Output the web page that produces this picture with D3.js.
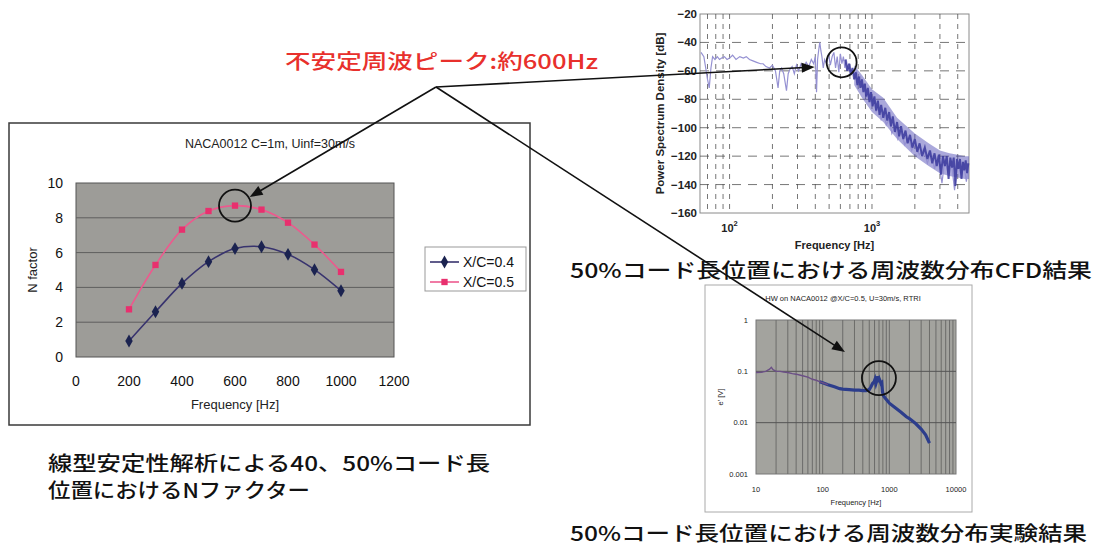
<!DOCTYPE html>
<html>
<head>
<meta charset="utf-8">
<script src="https://cdn.jsdelivr.net/npm/d3@7"></script>
<style>
  body { margin: 0; background: #fff; }
  svg { display: block; }
</style>
</head>
<body>
<svg id="c" width="1098" height="549"></svg>
<script>
// ---------------- data ----------------
// Linear stability N factor at two chord positions
const nFreq = [200, 300, 400, 500, 600, 700, 800, 900, 1000];
const nX04  = [0.92, 2.6, 4.23, 5.48, 6.23, 6.34, 5.9, 5.02, 3.81];
const nX05  = [2.74, 5.29, 7.32, 8.39, 8.7, 8.47, 7.72, 6.46, 4.89];
const nSeries = ["X/C=0.4", "X/C=0.5"];
const nXTicks = [0, 200, 400, 600, 800, 1000, 1200];
const nYTicks = [0, 2, 4, 6, 8, 10];

// CFD power spectrum density, light trace (Hz, dB)
const psdFreqA = [63,66,68,70,72,74,76,79,82,85,88,92,96,100,105,111,118,125,131,138,146,155,165,172,180,191,200,210,219,225,232,240,251,258,265,275,285,295,305,318,330,345,360,375,390,400,408,415,423,430,438,445,455,465,480,495,510,525,540,555,570,585,600,615,630,645,660,680,700,720,740,760,780,800,830,860,890,920,950,990,1030,1070,1110,1160,1210,1260,1320,1380,1450,1520,1600,1700,1800,1900,2000,2150,2300,2450,2600,2750,2900,3100,3250,3400,3600,3800,4000,4200,4400,4600,4750];
const psdDbA   = [-47,-50,-58,-66,-72,-58,-50,-52,-50,-52,-51,-50,-52,-51,-49,-52,-50,-51,-50,-52,-53,-54,-55,-55,-57,-58,-56,-60,-72,-60,-58,-62,-74,-62,-59,-57,-62,-56,-60,-55,-58,-54,-57,-52,-55,-50,-75,-52,-45,-40,-46,-50,-58,-52,-55,-48,-56,-50,-47,-58,-50,-61,-48,-55,-50,-58,-52,-60,-56,-62,-60,-66,-60,-66,-64,-72,-70,-79,-75,-84,-79,-89,-84,-94,-89,-98,-94,-104,-99,-108,-103,-112,-107,-116,-111,-119,-115,-125,-117,-129,-120,-139,-122,-131,-123,-144,-125,-133,-124,-138,-126];
// CFD power spectrum density, dense trace above 650 Hz
const psdFreqB = [650,670,690,710,730,750,770,790,810,830,850,870,890,910,935,960,985,1010,1040,1070,1100,1130,1160,1200,1240,1280,1320,1360,1400,1450,1500,1550,1600,1660,1720,1780,1850,1920,2000,2080,2160,2250,2350,2450,2550,2650,2750,2850,2950,3050,3150,3250,3350,3450,3550,3650,3750,3850,3950,4050,4150,4250,4350,4450,4550,4650,4750];
const psdDbB   = [-52,-60,-55,-63,-58,-66,-61,-70,-64,-72,-66,-75,-69,-78,-72,-82,-75,-85,-78,-88,-81,-91,-84,-93,-86,-95,-89,-99,-92,-103,-96,-106,-99,-108,-102,-111,-105,-114,-108,-117,-111,-120,-114,-122,-116,-125,-118,-127,-119,-133,-120,-127,-120,-136,-121,-128,-121,-141,-122,-129,-122,-136,-124,-130,-123,-132,-125];
// spread of the overlapping traces in the roll-off region
const psdBandFreq = [750, 850, 1000, 1200, 1500, 2000, 2500, 3000, 3500, 4000, 4500, 4800];
const psdBandHi   = [-56, -63, -73, -79, -93, -104, -111, -116, -118, -119, -120, -120];
const psdBandLo   = [-70, -79, -89, -96, -108, -120, -127, -132, -134, -135, -136, -136];
const psdYTicks = [-160, -140, -120, -100, -80, -60, -40, -20];
const psdXMajor = [100, 1000];

// Hot-wire measurement spectrum (Hz, V)
const hwFreq = [10,12,14,16,17,18,20,23,26,30,35,40,45,50,60,70,80,90,100,120,150,180,200,250,300,350,400,450,500,530,560,590,610,630,650,670,690,710,730,750,770,790,820,870,950,1000,1200,1500,1800,2000,2500,3000,3500,4000];
const hwVolt = [0.095,0.096,0.1,0.11,0.12,0.108,0.1,0.1,0.097,0.095,0.09,0.088,0.085,0.082,0.077,0.07,0.067,0.063,0.06,0.055,0.05,0.046,0.045,0.044,0.043,0.043,0.042,0.042,0.044,0.05,0.058,0.062,0.07,0.058,0.066,0.08,0.062,0.07,0.064,0.058,0.06,0.04,0.033,0.03,0.026,0.024,0.02,0.016,0.013,0.012,0.0095,0.0075,0.0058,0.004];
const hwYTicks = [0.001, 0.01, 0.1, 1];
const hwXTicks = [10, 100, 1000, 10000];

// Peak annotations: circle centres in each chart's data units
const peakN   = { f: 600, v: 8.7 };
const peakPsd = { f: 612, v: -54 };
const peakHw  = { f: 698, v: 0.074 };
// Arrow tips in each chart's data units
const tipPsd = { f: 396, v: -57.3 };
const tipHw  = { f: 216, v: 0.238 };

// ---------------- drawing ----------------
const svg = d3.select("#c");
const LAT = "'Liberation Sans', Arial, sans-serif";
const JP = "'Noto Sans CJK JP', sans-serif";

// ===== N factor chart =====
const gN = svg.append("g");
gN.append("rect").attr("x", 9).attr("y", 123).attr("width", 521).attr("height", 302)
  .attr("fill", "#fff").attr("stroke", "#3a3a3a").attr("stroke-width", 1.5);

const xN = d3.scaleLinear().domain([0, 1200]).range([76, 394]);
const yN = d3.scaleLinear().domain([0, 10]).range([357, 183]);

gN.append("rect").attr("x", xN(0)).attr("y", yN(10))
  .attr("width", xN(1200) - xN(0)).attr("height", yN(0) - yN(10))
  .attr("fill", "#9d9c98").attr("stroke", "#555").attr("stroke-width", 1);

gN.selectAll("line.grid").data(nYTicks.filter(d => d > 0 && d < 10)).join("line")
  .attr("x1", xN(0)).attr("x2", xN(1200)).attr("y1", d => yN(d)).attr("y2", d => yN(d))
  .attr("stroke", "#5e5e5e").attr("stroke-width", 1);

gN.selectAll("text.yt").data(nYTicks).join("text")
  .attr("x", 63).attr("y", d => yN(d)).attr("text-anchor", "end").attr("dominant-baseline", "central")
  .attr("font-family", LAT).attr("font-size", 14).attr("fill", "#111").text(d => d);
gN.selectAll("text.xt").data(nXTicks).join("text")
  .attr("x", d => xN(d)).attr("y", 381).attr("text-anchor", "middle").attr("dominant-baseline", "central")
  .attr("font-family", LAT).attr("font-size", 14).attr("fill", "#111").text(d => d);

gN.append("text").attr("x", 270).attr("y", 144).attr("text-anchor", "middle").attr("dominant-baseline", "central")
  .attr("font-family", LAT).attr("font-size", 12.5).attr("fill", "#222").text("NACA0012 C=1m, Uinf=30m/s");
gN.append("text").attr("x", (xN(0) + xN(1200)) / 2).attr("y", 404).attr("text-anchor", "middle").attr("dominant-baseline", "central")
  .attr("font-family", LAT).attr("font-size", 13).attr("fill", "#222").text("Frequency [Hz]");
gN.append("text").attr("transform", `translate(32,${(yN(0) + yN(10)) / 2}) rotate(-90)`)
  .attr("text-anchor", "middle").attr("dominant-baseline", "central")
  .attr("font-family", LAT).attr("font-size", 13).attr("fill", "#222").text("N factor");

const nColors = [{ line: "#38336e", mark: "#1b2350" }, { line: "#ec5a8e", mark: "#e8306e" }];
const nSymbols = [d3.symbolDiamond, d3.symbolSquare];
const nSizes = [48, 40];
const nLine = d3.line().x(d => xN(d[0])).y(d => yN(d[1])).curve(d3.curveCatmullRom.alpha(0.5));
[nX04, nX05].forEach((vals, i) => {
  const pts = nFreq.map((f, k) => [f, vals[k]]);
  gN.append("path").attr("d", nLine(pts)).attr("fill", "none")
    .attr("stroke", nColors[i].line).attr("stroke-width", 1.6);
  gN.selectAll(null).data(pts).join("path")
    .attr("transform", d => `translate(${xN(d[0])},${yN(d[1])})`)
    .attr("d", d3.symbol(nSymbols[i], nSizes[i])).attr("fill", nColors[i].mark);
});

// legend
const lg = gN.append("g");
lg.append("rect").attr("x", 425).attr("y", 247).attr("width", 101).attr("height", 44)
  .attr("fill", "#fff").attr("stroke", "#999").attr("stroke-width", 1);
nSeries.forEach((name, i) => {
  const yy = 262 + i * 20;
  lg.append("line").attr("x1", 430).attr("x2", 459).attr("y1", yy).attr("y2", yy)
    .attr("stroke", nColors[i].line).attr("stroke-width", 1.6);
  lg.append("path").attr("transform", `translate(444.5,${yy})`)
    .attr("d", d3.symbol(nSymbols[i], nSizes[i])).attr("fill", nColors[i].mark);
  lg.append("text").attr("x", 463).attr("y", yy).attr("dominant-baseline", "central")
    .attr("font-family", LAT).attr("font-size", 14).attr("fill", "#111").text(name);
});

// ===== CFD PSD chart =====
const gP = svg.append("g");
const xP = d3.scaleLog().domain([62, 4800]).range([700, 969]);
const yP = d3.scaleLinear().domain([-160, -20]).range([213, 14]);
gP.append("rect").attr("x", xP.range()[0]).attr("y", yP(-20))
  .attr("width", xP.range()[1] - xP.range()[0]).attr("height", yP(-160) - yP(-20))
  .attr("fill", "#fff").attr("stroke", "#8a8a8a").attr("stroke-width", 1);

const psdMinor = [];
[10, 100, 1000].forEach(dec => { for (let m = 1; m <= 9; m++) { const f = dec * m; if (f > 62 && f < 4800) psdMinor.push(f); } });
gP.selectAll("line.vg").data(psdMinor).join("line")
  .attr("x1", d => xP(d)).attr("x2", d => xP(d)).attr("y1", yP(-20)).attr("y2", yP(-160))
  .attr("stroke", "#4a4a4a").attr("stroke-width", 1).attr("stroke-dasharray", "5,5").attr("opacity", 0.75);
gP.selectAll("line.hg").data(psdYTicks.filter(d => d > -160 && d < -20)).join("line")
  .attr("x1", xP.range()[0]).attr("x2", xP.range()[1]).attr("y1", d => yP(d)).attr("y2", d => yP(d))
  .attr("stroke", "#4a4a4a").attr("stroke-width", 1).attr("stroke-dasharray", "9,7").attr("opacity", 0.75);

gP.selectAll("text.yt").data(psdYTicks).join("text")
  .attr("x", 697).attr("y", d => yP(d)).attr("text-anchor", "end").attr("dominant-baseline", "central")
  .attr("font-family", LAT).attr("font-size", 11.5).attr("font-weight", "bold").attr("fill", "#222")
  .text(d => String(d).replace("-", "\u2212"));
psdXMajor.forEach(f => {
  const t = gP.append("text").attr("x", xP(f)).attr("y", 232).attr("text-anchor", "middle")
    .attr("font-family", LAT).attr("font-size", 11).attr("font-weight", "bold").attr("fill", "#222");
  t.append("tspan").text("10");
  t.append("tspan").attr("dy", -6).attr("font-size", 7.5).text(String(Math.round(Math.log10(f))));
});
gP.append("text").attr("x", (xP.range()[0] + xP.range()[1]) / 2).attr("y", 245)
  .attr("text-anchor", "middle").attr("dominant-baseline", "central")
  .attr("font-family", LAT).attr("font-size", 11).attr("font-weight", "bold").attr("fill", "#222").text("Frequency [Hz]");
gP.append("text").attr("transform", `translate(660,${(yP(-20) + yP(-160)) / 2}) rotate(-90)`)
  .attr("text-anchor", "middle").attr("dominant-baseline", "central")
  .attr("font-family", LAT).attr("font-size", 11.5).attr("font-weight", "bold").attr("fill", "#222")
  .text("Power Spectrum Density [dB]");

const pLine = d3.line().x(d => xP(d[0])).y(d => yP(d[1]));
const pArea = d3.area().x(d => xP(d[0])).y0(d => yP(d[1])).y1(d => yP(d[2]));
gP.append("path").attr("d", pArea(psdBandFreq.map((f, i) => [f, psdBandLo[i], psdBandHi[i]])))
  .attr("fill", "#5552b8").attr("opacity", 0.5);
gP.append("path").attr("d", pLine(psdFreqA.map((f, i) => [f, psdDbA[i]])))
  .attr("fill", "none").attr("stroke", "#9591d2").attr("stroke-width", 1.2);
gP.append("path").attr("d", pLine(psdFreqB.map((f, i) => [f, psdDbB[i]])))
  .attr("fill", "none").attr("stroke", "#3a389c").attr("stroke-width", 2).attr("opacity", 0.85);

// ===== Hot-wire chart =====
const gH = svg.append("g");
gH.append("rect").attr("x", 705).attr("y", 285).attr("width", 267).attr("height", 227)
  .attr("fill", "#fff").attr("stroke", "#aaa").attr("stroke-width", 1);
const xH = d3.scaleLog().domain([10, 10000]).range([756, 956]);
const yH = d3.scaleLog().domain([0.001, 1]).range([474, 320]);
gH.append("rect").attr("x", xH(10)).attr("y", yH(1))
  .attr("width", xH(10000) - xH(10)).attr("height", yH(0.001) - yH(1))
  .attr("fill", "#a3a39e").attr("stroke", "#777").attr("stroke-width", 1);
const hwMinor = [];
[10, 100, 1000].forEach(dec => { for (let m = 1; m <= 9; m++) hwMinor.push(dec * m); });
gH.selectAll("line.vg").data(hwMinor.filter(f => f > 10)).join("line")
  .attr("x1", d => xH(d)).attr("x2", d => xH(d)).attr("y1", yH(1)).attr("y2", yH(0.001))
  .attr("stroke", "#6c6c6a").attr("stroke-width", 1);
gH.selectAll("line.hg").data([0.01, 0.1]).join("line")
  .attr("x1", xH(10)).attr("x2", xH(10000)).attr("y1", d => yH(d)).attr("y2", d => yH(d))
  .attr("stroke", "#555").attr("stroke-width", 1);
gH.selectAll("text.yt").data(hwYTicks).join("text")
  .attr("x", 748).attr("y", d => yH(d)).attr("text-anchor", "end").attr("dominant-baseline", "central")
  .attr("font-family", LAT).attr("font-size", 7.5).attr("fill", "#222").text(d => d);
gH.selectAll("text.xt").data(hwXTicks).join("text")
  .attr("x", d => xH(d)).attr("y", 489).attr("text-anchor", "middle").attr("dominant-baseline", "central")
  .attr("font-family", LAT).attr("font-size", 7.5).attr("fill", "#222").text(d => d);
gH.append("text").attr("x", 843).attr("y", 298).attr("text-anchor", "middle").attr("dominant-baseline", "central")
  .attr("font-family", LAT).attr("font-size", 7.5).attr("fill", "#222").text("HW on NACA0012 @X/C=0.5, U=30m/s, RTRI");
gH.append("text").attr("x", (xH(10) + xH(10000)) / 2).attr("y", 502).attr("text-anchor", "middle").attr("dominant-baseline", "central")
  .attr("font-family", LAT).attr("font-size", 7.5).attr("fill", "#222").text("Frequency [Hz]");
gH.append("text").attr("transform", `translate(720,${(yH(1) + yH(0.001)) / 2}) rotate(-90)`)
  .attr("text-anchor", "middle").attr("dominant-baseline", "central")
  .attr("font-family", LAT).attr("font-size", 7.5).attr("fill", "#222").text("e' [V]");

const hLine = d3.line().x(d => xH(d[0])).y(d => yH(d[1]));
const hwPts = hwFreq.map((f, i) => [f, hwVolt[i]]);
gH.append("path").attr("d", hLine(hwPts.filter(d => d[0] >= 90)))
  .attr("fill", "none").attr("stroke", "#2c3d8c").attr("stroke-width", 3.2);
gH.append("path").attr("d", hLine(hwPts.filter(d => d[0] <= 120)))
  .attr("fill", "none").attr("stroke", "#6b4f86").attr("stroke-width", 1.4);

// ===== peak circles =====
const circ = (cx, cy, r) => svg.append("circle").attr("cx", cx).attr("cy", cy).attr("r", r)
  .attr("fill", "none").attr("stroke", "#111").attr("stroke-width", 1.8);
circ(xN(peakN.f), yN(peakN.v), 16);
circ(xP(peakPsd.f), yP(peakPsd.v), 15);
circ(xH(peakHw.f), yH(peakHw.v), 17);

// ===== arrows from the label =====
const origin = [436, 87];
const arrow = (tx, ty) => {
  const dx = tx - origin[0], dy = ty - origin[1], len = Math.hypot(dx, dy);
  const ux = dx / len, uy = dy / len, L = 13, w = 5;
  svg.append("line").attr("x1", origin[0]).attr("y1", origin[1])
    .attr("x2", tx - ux * L * 0.8).attr("y2", ty - uy * L * 0.8)
    .attr("stroke", "#111").attr("stroke-width", 1.6);
  const bx = tx - ux * L, by = ty - uy * L;
  svg.append("path").attr("d", `M${tx},${ty}L${bx - uy * w},${by + ux * w}L${bx + uy * w},${by - ux * w}Z`)
    .attr("fill", "#111");
};
const nTipAngle = Math.atan2(origin[1] - yN(peakN.v), origin[0] - xN(peakN.f));
arrow(xN(peakN.f) + 17 * Math.cos(nTipAngle), yN(peakN.v) + 17 * Math.sin(nTipAngle));
arrow(xP(tipPsd.f), yP(tipPsd.v));
arrow(xH(tipHw.f), yH(tipHw.v));

// ===== captions =====
const caption = (txt, x, y, len, color, size) => svg.append("text")
  .attr("x", x).attr("y", y).attr("dominant-baseline", "central")
  .attr("textLength", len).attr("lengthAdjust", "spacingAndGlyphs")
  .attr("font-family", JP).attr("font-weight", 500).attr("font-size", size).attr("fill", color).text(txt);
caption("不安定周波ピーク:約600Hz", 285, 60, 313, "#e8302c", 20);
caption("50%コード長位置における周波数分布CFD結果", 570, 269, 522, "#111", 20);
caption("50%コード長位置における周波数分布実験結果", 570, 532, 517, "#111", 20);
caption("線型安定性解析による40、50%コード長", 48, 462, 442, "#111", 20);
caption("位置におけるNファクター", 48, 489, 262, "#111", 20);
</script>
</body>
</html>
